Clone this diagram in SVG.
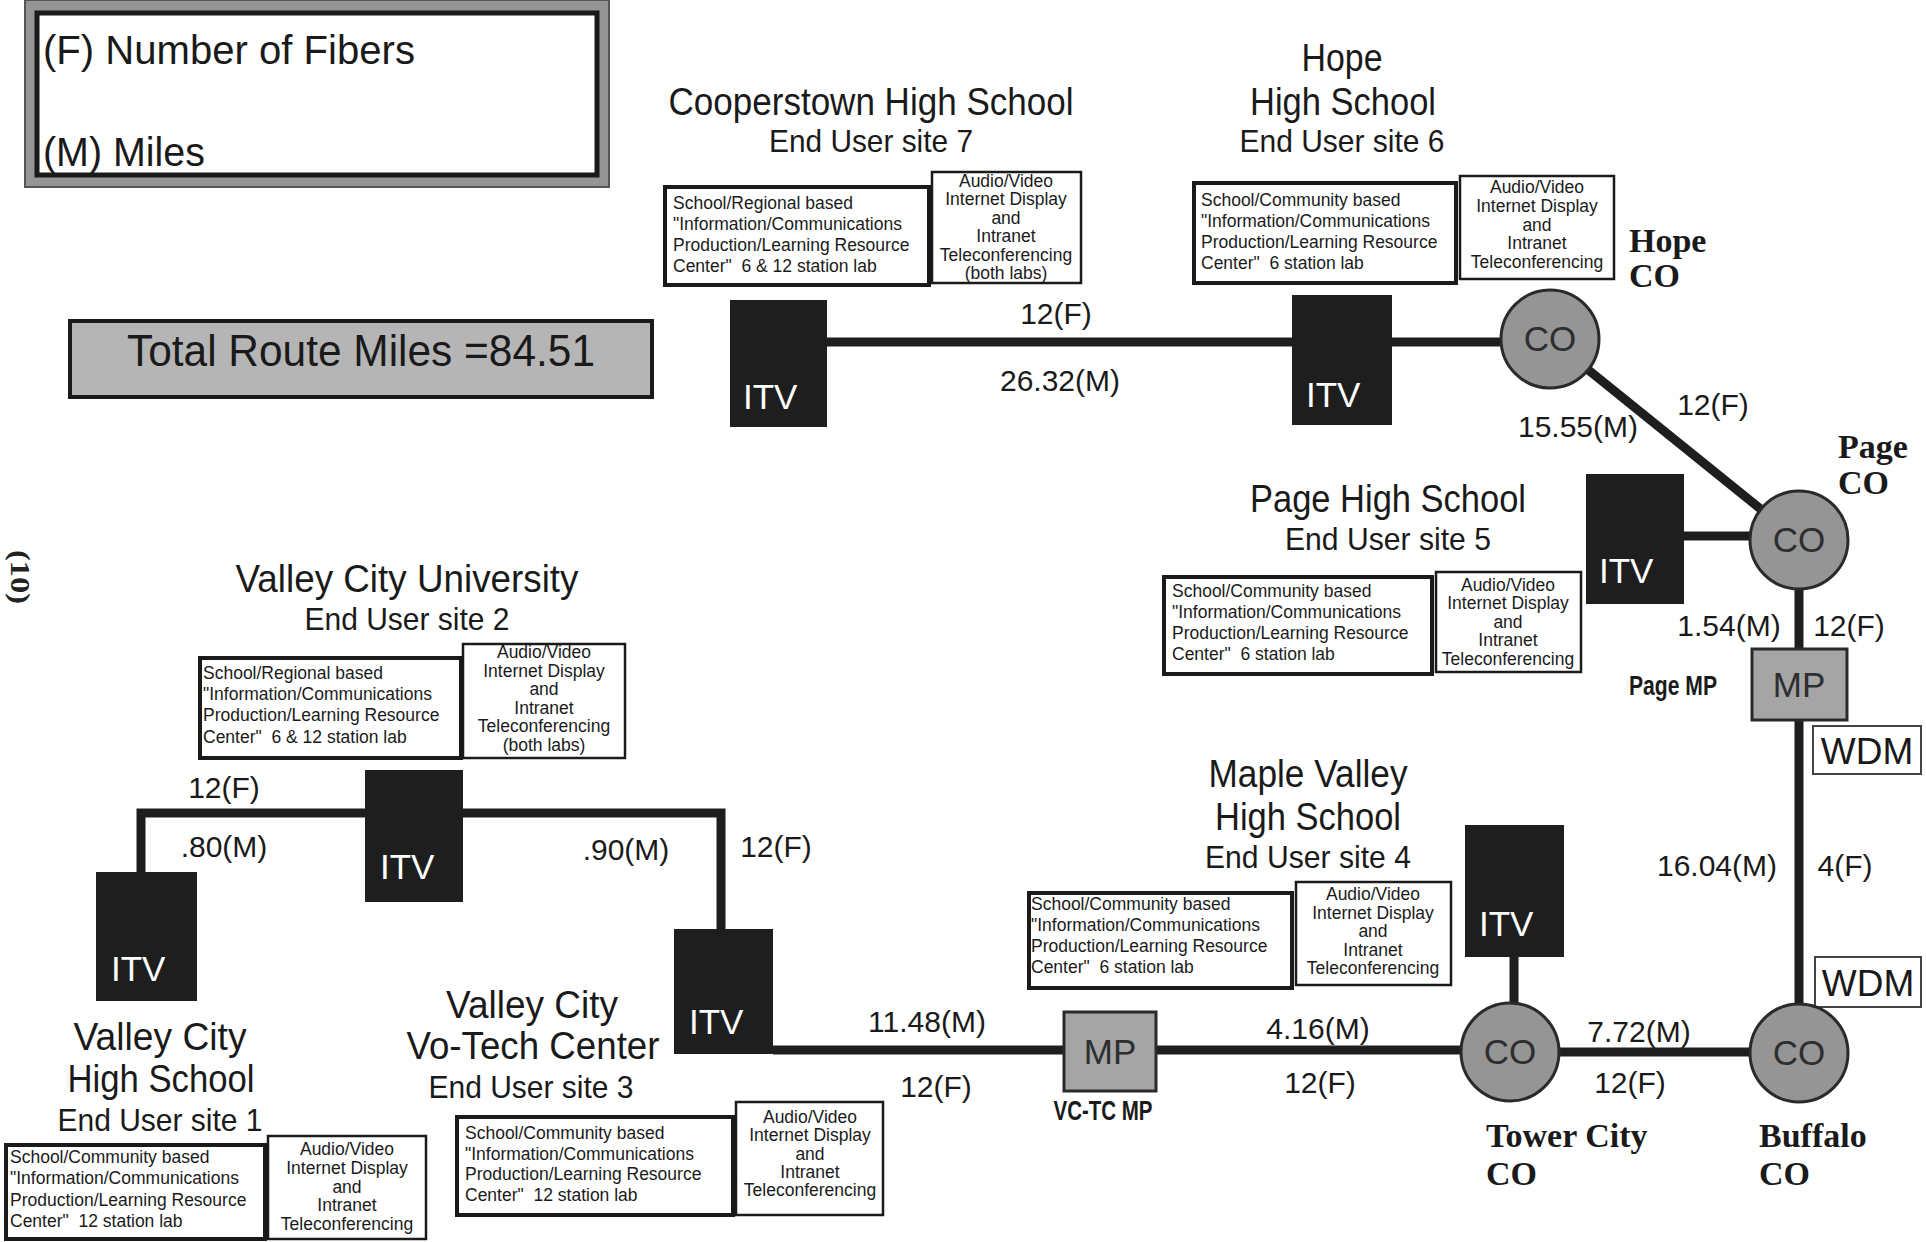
<svg xmlns="http://www.w3.org/2000/svg" width="1926" height="1242" viewBox="0 0 1926 1242">
<style>
.t{font-family:"Liberation Sans",Arial,sans-serif;fill:#1a1a1a}
.h1{font-size:38px}
.h2{font-size:32px}
.lbl{font-size:30px;text-anchor:middle}
.bx{font-size:17.5px}
.bc{font-size:17.5px;text-anchor:middle}
.itvt{font-size:35px;fill:#fff}
.cot{font-size:35px;fill:#2e2e2e;text-anchor:middle}
.ser{font-family:"Liberation Serif","Times New Roman",serif;font-weight:bold;font-size:34px;fill:#1a1a1a}
.mpl{font-weight:bold;font-size:27px;text-anchor:middle}
.itv{fill:#1e1e1e}
.co{fill:#959595;stroke:#2a2a2a;stroke-width:3}
.mp{fill:#a5a5a5;stroke:#2a2a2a;stroke-width:3}
.bl{fill:#fff;stroke:#1a1a1a;stroke-width:4}
.br{fill:#fff;stroke:#1a1a1a;stroke-width:2.5}
.wdm{fill:#fff;stroke:#444;stroke-width:2}
.ln{stroke:#1e1e1e;stroke-width:9;fill:none}
</style>
<rect width="1926" height="1242" fill="#fff"/>

<g id="legend">
<rect x="25" y="0" width="584" height="187" fill="#959595" stroke="#555" stroke-width="2"/>
<rect x="37" y="13" width="560" height="162" fill="#fff" stroke="#1a1a1a" stroke-width="5"/>
<text class="t" x="43" y="64" font-size="41" textLength="372" lengthAdjust="spacingAndGlyphs">(F) Number of Fibers</text>
<text class="t" x="43" y="166" font-size="41" textLength="162" lengthAdjust="spacingAndGlyphs">(M) Miles</text>
</g>

<g id="total">
<rect x="70" y="321" width="582" height="76" fill="#b5b5b5" stroke="#1a1a1a" stroke-width="4"/>
<text class="t" x="361" y="366" font-size="44" text-anchor="middle" fill="#222" textLength="468" lengthAdjust="spacingAndGlyphs">Total Route Miles =84.51</text>
</g>

<g id="page-number">
<text transform="translate(11,577) rotate(90)" font-family="Liberation Serif,serif" font-weight="bold" font-size="27" text-anchor="middle" fill="#222" textLength="54" lengthAdjust="spacingAndGlyphs">(10)</text>
</g>

<g id="connectors">
<path class="ln" d="M827,342 H1292"/>
<path class="ln" d="M1392,342 H1550"/>
<path class="ln" d="M1550,339 L1799,540" stroke-width="12"/>
<path class="ln" d="M1684,536 H1799"/>
<path class="ln" d="M1799,540 V1053"/>
<path class="ln" d="M1510,1052 H1799"/>
<path class="ln" d="M1514,957 V1052"/>
<path class="ln" d="M773,1050 H1510"/>
<path class="ln" d="M721,929 V813 H463"/>
<path class="ln" d="M365,813 H141 V872"/>
</g>

<g id="cooperstown">
<text class="t h1" x="871" y="115" text-anchor="middle" textLength="405" lengthAdjust="spacingAndGlyphs">Cooperstown High School</text>
<text class="t h2" x="871" y="152" text-anchor="middle" textLength="204" lengthAdjust="spacingAndGlyphs">End User site 7</text>
<rect class="bl" x="665" y="187" width="264" height="98"/>
<text class="t bx" x="673" y="209">School/Regional based</text>
<text class="t bx" x="673" y="230">"Information/Communications</text>
<text class="t bx" x="673" y="251">Production/Learning Resource</text>
<text class="t bx" x="673" y="272" xml:space="preserve">Center"  6 &amp; 12 station lab</text>
<rect class="br" x="932" y="172" width="149" height="111"/>
<text class="t bc" x="1006" y="187">Audio/Video</text>
<text class="t bc" x="1006" y="205">Internet Display</text>
<text class="t bc" x="1006" y="224">and</text>
<text class="t bc" x="1006" y="242">Intranet</text>
<text class="t bc" x="1006" y="261">Teleconferencing</text>
<text class="t bc" x="1006" y="279">(both labs)</text>
<rect class="itv" x="730" y="300" width="97" height="127"/>
<text class="t itvt" x="743" y="409">ITV</text>
</g>

<g id="hope">
<text class="t h1" x="1342" y="71" text-anchor="middle" textLength="81" lengthAdjust="spacingAndGlyphs">Hope</text>
<text class="t h1" x="1343" y="115" text-anchor="middle" textLength="186" lengthAdjust="spacingAndGlyphs">High School</text>
<text class="t h2" x="1342" y="152" text-anchor="middle" textLength="205" lengthAdjust="spacingAndGlyphs">End User site 6</text>
<rect class="bl" x="1194" y="183" width="262" height="100"/>
<text class="t bx" x="1201" y="206">School/Community based</text>
<text class="t bx" x="1201" y="227">"Information/Communications</text>
<text class="t bx" x="1201" y="248">Production/Learning Resource</text>
<text class="t bx" x="1201" y="269" xml:space="preserve">Center"  6 station lab</text>
<rect class="br" x="1460" y="176" width="154" height="103"/>
<text class="t bc" x="1537" y="193">Audio/Video</text>
<text class="t bc" x="1537" y="212">Internet Display</text>
<text class="t bc" x="1537" y="231">and</text>
<text class="t bc" x="1537" y="249">Intranet</text>
<text class="t bc" x="1537" y="268">Teleconferencing</text>
<rect class="itv" x="1292" y="295" width="100" height="130"/>
<text class="t itvt" x="1306" y="407">ITV</text>
</g>

<g id="hope-co">
<circle class="co" cx="1550" cy="339" r="49"/>
<text class="t cot" x="1550" y="351">CO</text>
<text class="ser" x="1629" y="252">Hope</text>
<text class="ser" x="1629" y="287">CO</text>
</g>

<g id="page">
<text class="t h1" x="1388" y="512" text-anchor="middle" textLength="276" lengthAdjust="spacingAndGlyphs">Page High School</text>
<text class="t h2" x="1388" y="550" text-anchor="middle" textLength="206" lengthAdjust="spacingAndGlyphs">End User site 5</text>
<rect class="bl" x="1164" y="577" width="268" height="97"/>
<text class="t bx" x="1172" y="597">School/Community based</text>
<text class="t bx" x="1172" y="618">"Information/Communications</text>
<text class="t bx" x="1172" y="639">Production/Learning Resource</text>
<text class="t bx" x="1172" y="660" xml:space="preserve">Center"  6 station lab</text>
<rect class="br" x="1436" y="572" width="145" height="100"/>
<text class="t bc" x="1508" y="591">Audio/Video</text>
<text class="t bc" x="1508" y="609">Internet Display</text>
<text class="t bc" x="1508" y="628">and</text>
<text class="t bc" x="1508" y="646">Intranet</text>
<text class="t bc" x="1508" y="665">Teleconferencing</text>
<rect class="itv" x="1586" y="474" width="98" height="130"/>
<text class="t itvt" x="1599" y="583">ITV</text>
</g>

<g id="page-co">
<circle class="co" cx="1799" cy="540" r="49"/>
<text class="t cot" x="1799" y="552">CO</text>
<text class="ser" x="1838" y="458">Page</text>
<text class="ser" x="1838" y="494">CO</text>
</g>

<g id="page-mp">
<rect class="mp" x="1752" y="649" width="95" height="71"/>
<text class="t cot" x="1799" y="697">MP</text>
<text class="t mpl" x="1673" y="695" textLength="88" lengthAdjust="spacingAndGlyphs">Page MP</text>
</g>

<g id="wdm-1">
<rect class="wdm" x="1813" y="726" width="108" height="48"/>
<text class="t" x="1867" y="764" font-size="37" text-anchor="middle">WDM</text>
</g>

<g id="wdm-2">
<rect class="wdm" x="1815" y="957" width="106" height="50"/>
<text class="t" x="1868" y="996" font-size="37" text-anchor="middle">WDM</text>
</g>

<g id="buffalo-co">
<circle class="co" cx="1799" cy="1053" r="49"/>
<text class="t cot" x="1799" y="1065">CO</text>
<text class="ser" x="1759" y="1147">Buffalo</text>
<text class="ser" x="1759" y="1185">CO</text>
</g>

<g id="tower-city-co">
<circle class="co" cx="1510" cy="1052" r="49"/>
<text class="t cot" x="1510" y="1064">CO</text>
<text class="ser" x="1486" y="1147">Tower City</text>
<text class="ser" x="1486" y="1185">CO</text>
</g>

<g id="maple-valley">
<text class="t h1" x="1308" y="787" text-anchor="middle" textLength="199" lengthAdjust="spacingAndGlyphs">Maple Valley</text>
<text class="t h1" x="1308" y="830" text-anchor="middle" textLength="186" lengthAdjust="spacingAndGlyphs">High School</text>
<text class="t h2" x="1308" y="868" text-anchor="middle" textLength="206" lengthAdjust="spacingAndGlyphs">End User site 4</text>
<rect class="bl" x="1029" y="893" width="263" height="95"/>
<text class="t bx" x="1031" y="910">School/Community based</text>
<text class="t bx" x="1031" y="931">"Information/Communications</text>
<text class="t bx" x="1031" y="952">Production/Learning Resource</text>
<text class="t bx" x="1031" y="973" xml:space="preserve">Center"  6 station lab</text>
<rect class="br" x="1296" y="882" width="155" height="103"/>
<text class="t bc" x="1373" y="900">Audio/Video</text>
<text class="t bc" x="1373" y="919">Internet Display</text>
<text class="t bc" x="1373" y="937">and</text>
<text class="t bc" x="1373" y="956">Intranet</text>
<text class="t bc" x="1373" y="974">Teleconferencing</text>
<rect class="itv" x="1465" y="825" width="99" height="132"/>
<text class="t itvt" x="1479" y="936">ITV</text>
</g>

<g id="vc-tc-mp">
<rect class="mp" x="1064" y="1012" width="92" height="79"/>
<text class="t cot" x="1110" y="1064">MP</text>
<text class="t mpl" x="1103" y="1120" textLength="99" lengthAdjust="spacingAndGlyphs">VC-TC MP</text>
</g>

<g id="valley-city-university">
<text class="t h1" x="407" y="592" text-anchor="middle" textLength="343" lengthAdjust="spacingAndGlyphs">Valley City University</text>
<text class="t h2" x="407" y="630" text-anchor="middle" textLength="205" lengthAdjust="spacingAndGlyphs">End User site 2</text>
<rect class="bl" x="200" y="658" width="261" height="100"/>
<text class="t bx" x="203" y="679">School/Regional based</text>
<text class="t bx" x="203" y="700">"Information/Communications</text>
<text class="t bx" x="203" y="721">Production/Learning Resource</text>
<text class="t bx" x="203" y="743" xml:space="preserve">Center"  6 &amp; 12 station lab</text>
<rect class="br" x="463" y="644" width="162" height="114"/>
<text class="t bc" x="544" y="658">Audio/Video</text>
<text class="t bc" x="544" y="677">Internet Display</text>
<text class="t bc" x="544" y="695">and</text>
<text class="t bc" x="544" y="714">Intranet</text>
<text class="t bc" x="544" y="732">Teleconferencing</text>
<text class="t bc" x="544" y="751">(both labs)</text>
<rect class="itv" x="365" y="770" width="98" height="132"/>
<text class="t itvt" x="380" y="879">ITV</text>
</g>

<g id="valley-city-high-school">
<text class="t h1" x="160" y="1050" text-anchor="middle" textLength="173" lengthAdjust="spacingAndGlyphs">Valley City</text>
<text class="t h1" x="161" y="1092" text-anchor="middle" textLength="187" lengthAdjust="spacingAndGlyphs">High School</text>
<text class="t h2" x="160" y="1131" text-anchor="middle" textLength="205" lengthAdjust="spacingAndGlyphs">End User site 1</text>
<rect class="bl" x="6" y="1145" width="259" height="94"/>
<text class="t bx" x="10" y="1163">School/Community based</text>
<text class="t bx" x="10" y="1184">"Information/Communications</text>
<text class="t bx" x="10" y="1206">Production/Learning Resource</text>
<text class="t bx" x="10" y="1227" xml:space="preserve">Center"  12 station lab</text>
<rect class="br" x="268" y="1136" width="158" height="103"/>
<text class="t bc" x="347" y="1155">Audio/Video</text>
<text class="t bc" x="347" y="1174">Internet Display</text>
<text class="t bc" x="347" y="1193">and</text>
<text class="t bc" x="347" y="1211">Intranet</text>
<text class="t bc" x="347" y="1230">Teleconferencing</text>
<rect class="itv" x="96" y="872" width="101" height="129"/>
<text class="t itvt" x="111" y="981">ITV</text>
</g>

<g id="valley-city-vo-tech">
<text class="t h1" x="532" y="1018" text-anchor="middle" textLength="172" lengthAdjust="spacingAndGlyphs">Valley City</text>
<text class="t h1" x="533" y="1059" text-anchor="middle" textLength="253" lengthAdjust="spacingAndGlyphs">Vo-Tech Center</text>
<text class="t h2" x="531" y="1098" text-anchor="middle" textLength="205" lengthAdjust="spacingAndGlyphs">End User site 3</text>
<rect class="bl" x="457" y="1117" width="276" height="98"/>
<text class="t bx" x="465" y="1139">School/Community based</text>
<text class="t bx" x="465" y="1160">"Information/Communications</text>
<text class="t bx" x="465" y="1180">Production/Learning Resource</text>
<text class="t bx" x="465" y="1201" xml:space="preserve">Center"  12 station lab</text>
<rect class="br" x="736" y="1102" width="147" height="113"/>
<text class="t bc" x="810" y="1123">Audio/Video</text>
<text class="t bc" x="810" y="1141">Internet Display</text>
<text class="t bc" x="810" y="1160">and</text>
<text class="t bc" x="810" y="1178">Intranet</text>
<text class="t bc" x="810" y="1196">Teleconferencing</text>
<rect class="itv" x="674" y="929" width="99" height="125"/>
<text class="t itvt" x="689" y="1034">ITV</text>
</g>

<g id="connector-labels">
<text class="t lbl" x="1056" y="324">12(F)</text>
<text class="t lbl" x="1060" y="391">26.32(M)</text>
<text class="t lbl" x="1578" y="437">15.55(M)</text>
<text class="t lbl" x="1713" y="415">12(F)</text>
<text class="t lbl" x="1729" y="636">1.54(M)</text>
<text class="t lbl" x="1849" y="636">12(F)</text>
<text class="t lbl" x="1717" y="876">16.04(M)</text>
<text class="t lbl" x="1845" y="876">4(F)</text>
<text class="t lbl" x="1639" y="1042">7.72(M)</text>
<text class="t lbl" x="1630" y="1093">12(F)</text>
<text class="t lbl" x="1318" y="1039">4.16(M)</text>
<text class="t lbl" x="1320" y="1093">12(F)</text>
<text class="t lbl" x="927" y="1032">11.48(M)</text>
<text class="t lbl" x="936" y="1097">12(F)</text>
<text class="t lbl" x="224" y="798">12(F)</text>
<text class="t lbl" x="224" y="857">.80(M)</text>
<text class="t lbl" x="626" y="860">.90(M)</text>
<text class="t lbl" x="776" y="857">12(F)</text>
</g>
</svg>
